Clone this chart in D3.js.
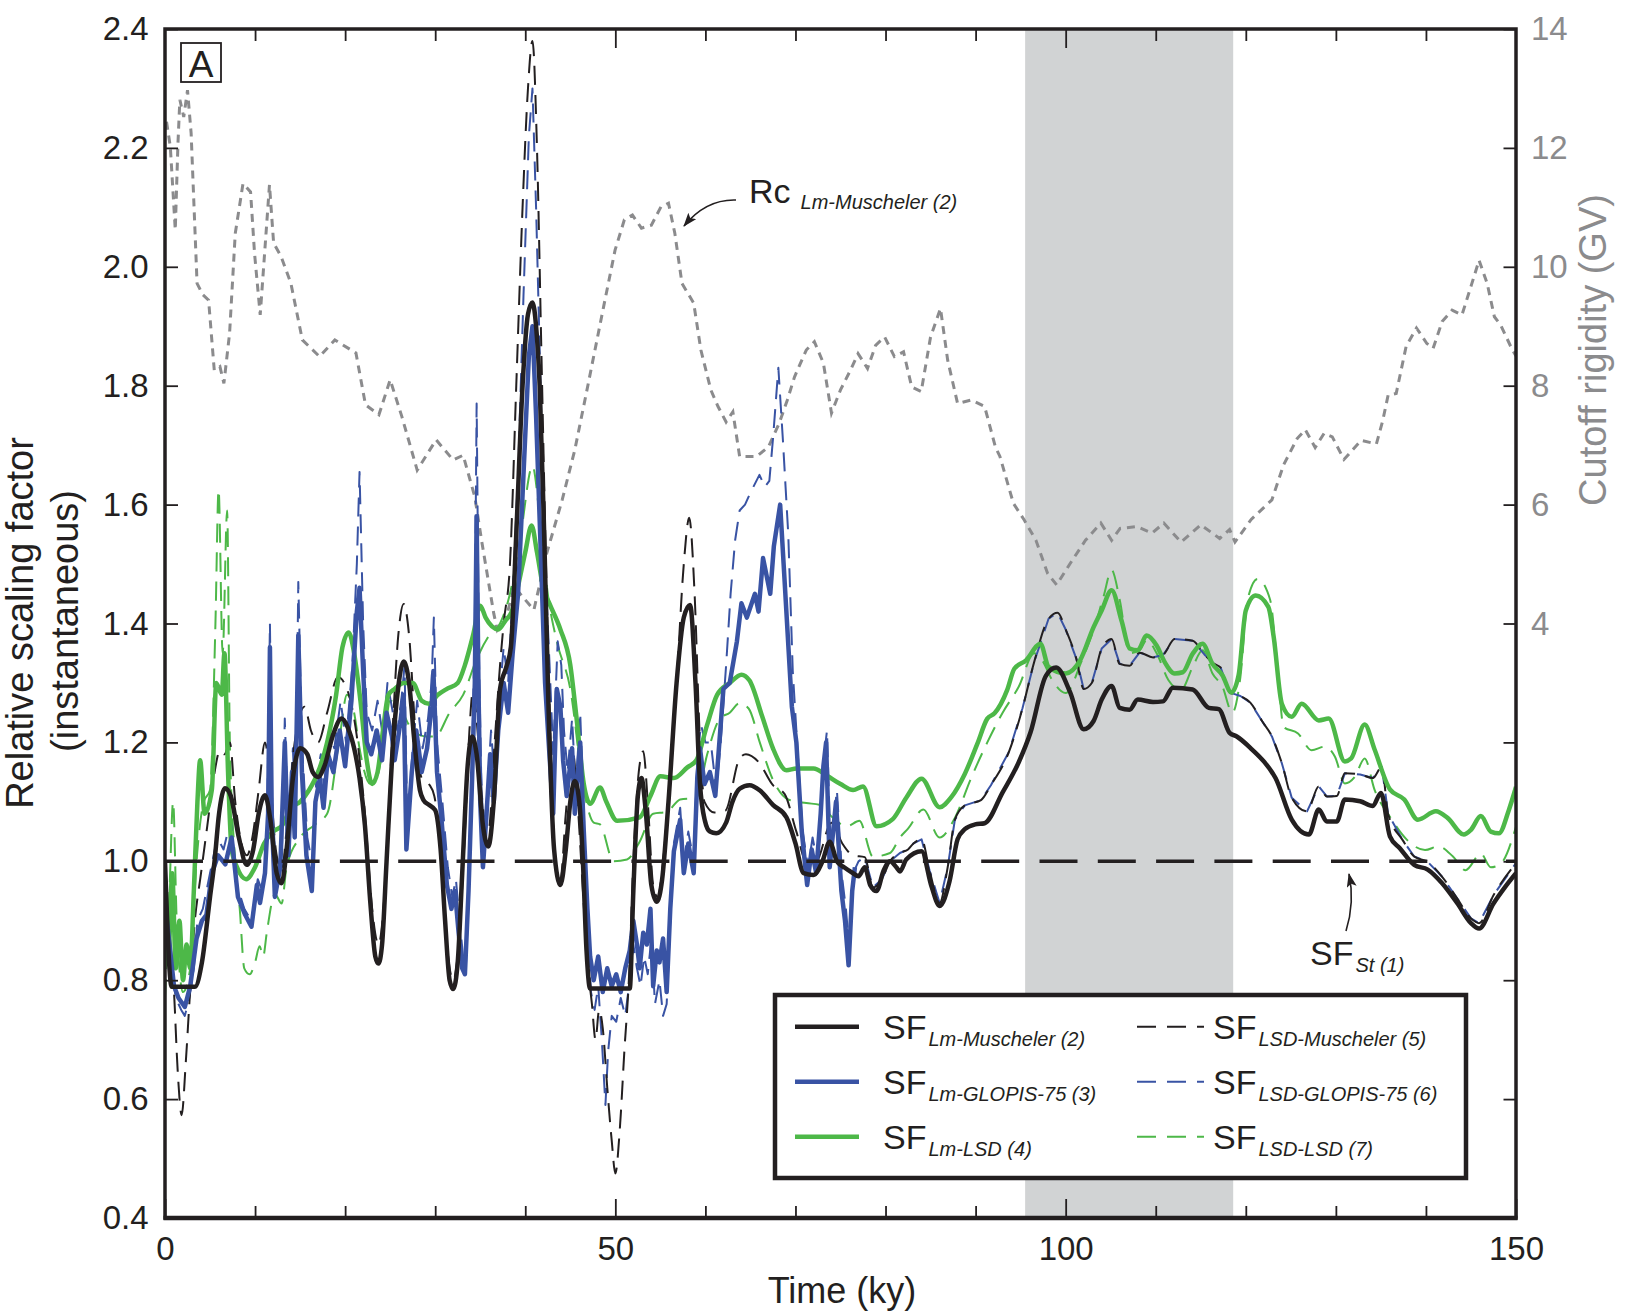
<!DOCTYPE html>
<html>
<head>
<meta charset="utf-8">
<script src="https://d3js.org/d3.v7.min.js"></script>
<style>
body { margin: 0; background: #fff; }
svg { font-family: 'Liberation Sans', Arial, Helvetica, sans-serif; }
</style>
</head>
<body>
<svg id="chart"></svg>
<script>
// ---- data ----
const timeLabels = [0, 50, 100, 150];
const timeMinor = [10, 20, 30, 40, 60, 70, 80, 90, 110, 120, 130, 140];
const sfTicks = [0.4, 0.6, 0.8, 1.0, 1.2, 1.4, 1.6, 1.8, 2.0, 2.2, 2.4];
const rcTicks = [-4, -2, 0, 2, 4, 6, 8, 10, 12, 14];
const rcLabels = [4, 6, 8, 10, 12, 14];
const band = [95.5, 118.6];
const sfSt = [[0, 1.0], [150, 1.0]];

// SF Lm-Muscheler (2)
const sfLmMuscheler = [[0,1.0],[0.74,0.789],[3.33,0.789],[4.1,0.83],[5.0,0.94],[5.5,1.0],[6.0,1.08],[6.66,1.123],[7.3,1.11],[8.2,1.04],[9.07,0.994],[9.8,1.02],[10.4,1.08],[11.1,1.111],[11.7,1.07],[12.4,0.98],[12.95,0.963],[13.5,1.02],[14.2,1.14],[15.0,1.19],[15.8,1.18],[16.4,1.15],[17.0,1.142],[17.7,1.16],[18.6,1.21],[19.6,1.24],[20.3,1.225],[21.0,1.19],[21.6,1.14],[22.2,1.06],[22.8,0.93],[23.35,0.84],[23.7,0.828],[24.1,0.86],[24.6,1.0],[25.2,1.17],[25.8,1.28],[26.5,1.336],[27.1,1.3],[27.7,1.2],[28.3,1.12],[28.7,1.103],[29.3,1.095],[30.0,1.086],[30.6,1.02],[31.1,0.9],[31.6,0.8],[32.0,0.785],[32.5,0.83],[33.0,0.98],[33.6,1.16],[34.1,1.21],[34.6,1.18],[35.3,1.06],[35.9,1.025],[36.5,1.1],[37.2,1.29],[37.9,1.327],[38.4,1.36],[39.0,1.55],[39.7,1.8],[40.3,1.92],[40.8,1.94],[41.2,1.9],[41.6,1.8],[42.1,1.55],[42.6,1.25],[43.2,1.02],[43.9,0.96],[44.5,1.02],[45.0,1.1],[45.5,1.135],[46.0,1.1],[46.4,1.0],[46.8,0.85],[47.2,0.786],[51.6,0.786],[52.0,0.95],[52.5,1.11],[52.9,1.14],[53.4,1.08],[54.0,0.96],[54.6,0.932],[55.2,0.97],[55.9,1.1],[56.8,1.3],[57.6,1.41],[58.3,1.431],[58.9,1.3],[59.4,1.13],[59.95,1.068],[60.5,1.05],[61.2,1.047],[62.3,1.065],[63.0,1.1],[63.8,1.122],[64.9,1.128],[66.06,1.119],[67.5,1.095],[69.0,1.074],[70.0,1.03],[70.9,0.98],[72.0,0.977],[73.0,1.0],[73.8,1.033],[74.6,1.0],[75.4,0.99],[76.4,0.98],[77.0,0.975],[77.7,0.99],[78.3,0.96],[79.0,0.95],[79.8,0.985],[80.5,1.0],[81.2,0.99],[81.6,0.983],[82.3,1.003],[84.0,1.017],[85.1,0.958],[86.0,0.925],[87.1,0.966],[88.0,1.037],[88.8,1.054],[89.95,1.062],[91.0,1.064],[93.0,1.116],[94.8,1.167],[96.1,1.217],[97.8,1.312],[98.95,1.326],[100.5,1.284],[102.0,1.222],[103.1,1.236],[104.0,1.272],[105.1,1.295],[106.0,1.258],[107.1,1.255],[108.0,1.272],[109.7,1.268],[110.8,1.269],[111.9,1.292],[114.1,1.289],[115.9,1.258],[117.0,1.256],[118.2,1.216],[119.0,1.21],[120.7,1.188],[122.0,1.168],[123.3,1.14],[125.1,1.07],[127.0,1.045],[128.1,1.087],[129.0,1.067],[130.1,1.067],[131.0,1.104],[132.7,1.101],[134.1,1.093],[135.0,1.115],[136.0,1.042],[137.1,1.022],[138.7,0.994],[140.2,0.986],[141.8,0.963],[143.5,0.929],[145.0,0.896],[145.9,0.887],[147.5,0.929],[148.8,0.957],[150,0.98]];

// SF Lm-GLOPIS-75 (3)
const sfLmGlopis = [[0,0.93],[0.5,0.86],[1.0,0.79],[1.5,0.77],[2.2,0.755],[2.8,0.79],[3.5,0.87],[4.1,0.9],[4.6,0.91],[5.2,0.98],[5.9,1.01],[6.7,0.995],[7.4,1.04],[8.1,0.94],[8.9,0.91],[9.6,0.89],[10.2,0.96],[10.55,0.93],[11.1,0.98],[11.45,1.08],[11.65,1.36],[11.85,1.08],[12.2,0.94],[12.8,0.99],[13.3,1.2],[13.7,1.01],[14.1,1.15],[14.4,1.04],[14.8,1.38],[15.2,1.15],[15.7,1.01],[16.3,0.95],[16.7,1.1],[17.2,1.14],[17.6,1.09],[18.1,1.18],[18.7,1.15],[19.4,1.22],[20.0,1.16],[20.7,1.27],[21.3,1.42],[21.6,1.46],[22.0,1.32],[22.4,1.2],[22.9,1.18],[23.5,1.22],[24.1,1.17],[24.6,1.25],[25.2,1.21],[25.5,1.17],[26.1,1.23],[26.5,1.28],[26.8,1.02],[27.4,1.15],[27.9,1.22],[28.5,1.15],[29.1,1.19],[29.6,1.26],[29.8,1.32],[30.2,1.15],[30.7,1.07],[31.3,0.96],[31.8,0.92],[32.2,0.95],[32.6,0.88],[33.0,0.82],[33.3,0.81],[33.7,0.95],[34.1,1.14],[34.4,1.3],[34.6,1.58],[34.8,1.3],[35.0,1.1],[35.3,0.99],[35.7,1.08],[36.1,1.18],[36.5,1.1],[37.0,1.22],[37.6,1.30],[38.1,1.25],[38.6,1.35],[39.2,1.45],[39.8,1.65],[40.4,1.85],[40.8,1.90],[41.2,1.75],[41.7,1.53],[42.2,1.3],[42.6,1.2],[43.1,1.08],[43.5,1.29],[43.9,1.26],[44.2,1.17],[44.6,1.11],[45.2,1.19],[45.5,1.08],[46.1,1.2],[46.5,1.05],[46.9,0.92],[47.2,0.84],[47.6,0.80],[48.1,0.84],[48.6,0.78],[49.1,0.82],[49.6,0.79],[50.1,0.81],[50.6,0.78],[51.1,0.82],[51.6,0.85],[52.0,0.9],[52.4,0.86],[52.7,0.82],[53.1,0.88],[53.5,0.86],[53.9,0.92],[54.2,0.79],[54.6,0.85],[54.9,0.83],[55.3,0.87],[55.7,0.78],[56.1,0.92],[56.5,1.017],[57.2,1.07],[57.6,0.98],[58.1,1.03],[58.7,0.98],[59.1,1.14],[59.4,1.19],[59.9,1.13],[60.5,1.15],[61.1,1.11],[61.4,1.17],[62.0,1.29],[62.7,1.3],[63.5,1.37],[64.0,1.434],[64.6,1.41],[65.5,1.45],[65.9,1.42],[66.4,1.51],[67.2,1.45],[67.6,1.53],[68.3,1.60],[68.8,1.47],[69.6,1.26],[70.1,1.2],[70.7,1.05],[71.3,0.96],[71.8,1.02],[72.3,0.98],[72.8,1.08],[73.1,1.16],[73.4,1.2],[73.8,0.99],[74.5,1.1],[75.1,0.95],[75.5,0.9],[75.9,0.825],[76.3,0.95],[76.6,0.99]];

// SF Lm-LSD (4)
const sfLmLsd = [[0,0.93],[0.4,0.85],[0.8,0.98],[1.2,0.82],[1.6,0.9],[2.0,0.8],[2.4,0.86],[2.8,0.82],[3.2,0.95],[3.6,1.1],[3.9,1.17],[4.4,1.08],[5.2,1.12],[5.7,1.30],[6.3,1.28],[6.6,1.35],[7.0,1.15],[7.4,1.02],[8.0,0.99],[9.0,0.97],[10.0,0.99],[11.0,1.03],[12.0,1.05],[13.0,1.06],[14.0,1.09],[15.0,1.1],[16.0,1.12],[17.0,1.15],[18.0,1.2],[19.0,1.28],[19.7,1.36],[20.4,1.385],[21.0,1.35],[21.7,1.27],[22.4,1.17],[23.0,1.13],[23.6,1.15],[24.2,1.22],[24.8,1.28],[25.5,1.29],[26.5,1.30],[27.5,1.30],[28.5,1.27],[29.3,1.265],[30.3,1.28],[31.3,1.29],[32.5,1.30],[33.3,1.33],[34.2,1.38],[35.0,1.43],[35.6,1.41],[36.3,1.395],[37.0,1.39],[37.8,1.405],[38.5,1.42],[39.3,1.47],[40.0,1.52],[40.7,1.565],[41.3,1.52],[42.0,1.46],[42.7,1.433],[43.9,1.39],[45.0,1.33],[45.7,1.24],[46.5,1.13],[47.2,1.097],[48.3,1.124],[49.0,1.10],[50.2,1.068],[52.7,1.074],[53.9,1.11],[55.0,1.143],[56.5,1.14],[58.0,1.158],[59.0,1.17],[60.2,1.23],[61.3,1.28],[62.7,1.30],[64.0,1.314],[64.9,1.304],[66.3,1.244],[67.5,1.19],[69.0,1.153],[70.1,1.156],[72.0,1.156],[73.5,1.144],[75.0,1.13],[76.4,1.12],[77.5,1.126],[79.0,1.059],[80.8,1.071],[82.3,1.107],[84.0,1.139],[86.0,1.091],[87.3,1.108],[88.8,1.147],[90.2,1.198],[91.3,1.24],[92.1,1.249],[93.5,1.288],[94.3,1.324],[95.6,1.338],[97.2,1.366],[98.1,1.327],[100.0,1.316],[101.6,1.338],[103.1,1.394],[104.0,1.422],[105.1,1.456],[106.2,1.405],[107.1,1.358],[108.0,1.355],[109.0,1.38],[110.1,1.363],[111.0,1.335],[112.1,1.316],[113.0,1.318],[114.1,1.349],[115.2,1.366],[116.3,1.332],[117.4,1.313],[118.4,1.284],[119.2,1.313],[120.0,1.422],[121.1,1.447],[122.5,1.428],[123.1,1.377],[124.0,1.265],[125.1,1.243],[126.2,1.265],[128.1,1.237],[129.2,1.24],[131.0,1.168],[131.7,1.173],[133.2,1.23],[134.3,1.188],[136.0,1.121],[137.6,1.104],[139.1,1.07],[141.1,1.084],[142.4,1.073],[144.2,1.045],[145.0,1.053],[146.1,1.076],[147.2,1.05],[148.1,1.047],[149.2,1.086],[150,1.125]];

// SF LSD-Muscheler (5)
const sfLsdMuscheler = [[0,0.97],[0.5,0.88],[1.0,0.78],[1.4,0.65],[1.85,0.573],[2.3,0.66],[2.7,0.76],[3.2,0.88],[4.0,0.98],[4.7,1.06],[5.4,1.14],[6.1,1.186],[6.6,1.18],[7.2,1.2],[7.8,1.1],[8.5,1.03],[9.1,1.01],[9.7,1.04],[10.4,1.12],[11.1,1.2],[11.7,1.13],[12.3,1.02],[12.95,0.985],[13.6,1.07],[14.4,1.2],[15.5,1.26],[16.2,1.22],[17.0,1.2],[18.0,1.25],[19.2,1.31],[20.2,1.29],[21.3,1.21],[22.2,1.08],[23.0,0.92],[23.7,0.86],[24.4,0.95],[25.2,1.2],[25.9,1.38],[26.5,1.433],[27.1,1.38],[27.8,1.22],[28.5,1.14],[29.3,1.13],[29.9,1.11],[30.6,1.02],[31.3,0.86],[32.0,0.8],[32.6,0.86],[33.3,1.05],[33.8,1.22],[34.2,1.287],[34.7,1.22],[35.3,1.09],[35.9,1.05],[36.6,1.2],[37.2,1.33],[37.6,1.40],[38.3,1.5],[39.0,1.8],[39.7,2.1],[40.3,2.3],[40.8,2.38],[41.3,2.2],[41.8,1.85],[42.3,1.5],[42.8,1.2],[43.4,0.98],[43.9,0.97],[44.5,1.08],[45.2,1.19],[45.8,1.1],[46.4,0.95],[46.9,0.83],[47.4,0.76],[47.8,0.7],[48.2,0.75],[48.6,0.72],[49.1,0.62],[49.6,0.53],[50.0,0.475],[50.5,0.55],[51.0,0.68],[51.5,0.8],[52.0,1.0],[52.6,1.15],[53.1,1.185],[53.6,1.1],[54.2,0.96],[54.7,0.94],[55.3,1.0],[56.0,1.13],[56.8,1.3],[57.6,1.5],[58.2,1.578],[58.8,1.45],[59.4,1.2],[59.9,1.1],[61.0,1.082],[62.2,1.085],[63.8,1.173],[64.5,1.18],[65.9,1.167],[67.5,1.128],[68.8,1.113],[70.1,1.05],[71.3,0.996],[72.3,0.999],[74.0,1.065],[75.2,1.03],[76.4,1.01],[77.7,1.007],[78.6,0.956],[79.6,0.97],[80.5,1.0],[81.6,1.014],[82.5,1.02],[83.1,1.03],[84.0,1.037],[84.9,0.984],[86.0,0.93],[86.9,0.99],[87.7,1.07],[88.8,1.094],[90.6,1.103],[91.7,1.128],[93.7,1.184],[95.2,1.257],[96.5,1.335],[98.1,1.408],[99.1,1.418],[100.0,1.39],[101.2,1.34],[102.0,1.29],[102.9,1.30],[104.0,1.358],[105.1,1.374],[106.0,1.332],[107.1,1.329],[108.2,1.351],[109.7,1.343],[110.8,1.347],[112.1,1.374],[114.1,1.371],[115.4,1.348],[116.5,1.332],[117.2,1.326],[118.2,1.284],[119.4,1.278],[120.5,1.267],[121.8,1.236],[122.9,1.21],[124.0,1.165],[125.1,1.107],[126.8,1.084],[128.1,1.126],[129.0,1.109],[130.1,1.11],[131.0,1.148],[132.7,1.146],[134.1,1.14],[135.1,1.159],[135.8,1.08],[137.4,1.036],[138.7,1.008],[140.2,0.999],[141.8,0.974],[143.5,0.937],[145.0,0.904],[145.9,0.896],[147.5,0.943],[150,0.997]];

// SF LSD-GLOPIS-75 (6), 0-77 ky; later it runs on the LSD-Muscheler curve
const sfLsdGlopis = [[0,0.93],[0.6,0.84],[1.2,0.77],[1.8,0.75],[2.2,0.74],[2.7,0.77],[3.2,0.82],[3.6,0.9],[4.2,0.92],[5.0,0.98],[5.8,1.04],[6.5,1.02],[7.3,1.07],[8.0,0.96],[8.8,0.92],[9.6,0.9],[10.3,0.97],[10.8,0.95],[11.3,1.02],[11.65,1.4],[11.9,1.1],[12.4,0.97],[13.0,1.03],[13.3,1.24],[13.7,1.05],[14.2,1.19],[14.5,1.08],[14.8,1.47],[15.2,1.2],[15.8,1.04],[16.4,0.99],[16.8,1.14],[17.3,1.18],[17.7,1.12],[18.2,1.22],[18.8,1.19],[19.5,1.27],[20.1,1.2],[20.8,1.33],[21.3,1.5],[21.6,1.655],[22.0,1.4],[22.4,1.25],[23.0,1.22],[23.6,1.27],[24.2,1.21],[24.7,1.3],[25.3,1.25],[25.8,1.22],[26.3,1.28],[26.6,1.33],[26.9,1.06],[27.5,1.19],[28.0,1.27],[28.6,1.19],[29.2,1.24],[29.6,1.30],[29.85,1.41],[30.2,1.2],[30.8,1.1],[31.4,0.99],[31.9,0.94],[32.3,0.97],[32.7,0.9],[33.1,0.84],[33.4,0.82],[33.8,0.98],[34.1,1.18],[34.4,1.4],[34.6,1.77],[34.85,1.35],[35.1,1.15],[35.4,1.03],[35.8,1.12],[36.2,1.22],[36.6,1.14],[37.1,1.27],[37.6,1.36],[38.1,1.3],[38.6,1.45],[39.2,1.65],[39.8,1.95],[40.4,2.22],[40.8,2.30],[41.2,2.1],[41.7,1.8],[42.2,1.5],[42.7,1.33],[43.1,1.18],[43.6,1.37],[44.0,1.33],[44.3,1.22],[44.7,1.15],[45.2,1.24],[45.6,1.12],[46.1,1.25],[46.5,1.08],[46.9,0.9],[47.3,0.78],[47.7,0.75],[48.1,0.79],[48.5,0.7],[48.9,0.59],[49.2,0.68],[49.6,0.74],[50.1,0.73],[50.6,0.77],[51.1,0.74],[51.6,0.8],[52.0,0.86],[52.4,0.82],[52.8,0.79],[53.2,0.84],[53.6,0.81],[54.0,0.87],[54.4,0.76],[54.9,0.8],[55.3,0.74],[55.7,0.76],[56.1,0.9],[56.5,1.03],[57.2,1.09],[57.6,1.0],[58.1,1.05],[58.7,1.0],[59.1,1.17],[59.5,1.23],[60.0,1.2],[60.6,1.2],[61.2,1.12],[61.7,1.2],[62.3,1.33],[62.8,1.45],[63.3,1.54],[63.8,1.59],[64.4,1.6],[65.0,1.62],[66.0,1.65],[66.6,1.63],[67.1,1.64],[67.5,1.71],[68.1,1.83],[68.6,1.71],[69.2,1.55],[69.7,1.32],[70.3,1.17],[70.8,1.05],[71.4,0.99],[71.9,1.04],[72.4,1.0],[72.9,1.1],[73.2,1.18],[73.5,1.22],[73.9,1.02],[74.6,1.12],[75.2,0.97],[75.6,0.92],[76.0,0.85],[76.4,0.98],[77.0,1.0]];

// SF LSD-LSD (7)
const sfLsdLsd = [[0,0.77],[0.5,0.95],[0.9,1.10],[1.3,0.9],[2.0,0.78],[2.8,0.82],[3.5,1.0],[4.3,1.1],[5.0,1.12],[5.6,1.4],[5.95,1.625],[6.4,1.35],[6.9,1.59],[7.2,1.2],[7.8,1.0],[8.3,0.92],[8.8,0.82],[9.4,0.81],[10.0,0.83],[10.5,0.857],[10.9,0.84],[11.3,0.88],[12.2,0.945],[12.95,0.929],[13.5,0.99],[15.0,1.04],[16.5,1.06],[18.0,1.08],[19.4,1.21],[20.2,1.28],[21.0,1.25],[21.6,1.19],[22.8,1.13],[23.5,1.14],[24.3,1.2],[25.0,1.27],[26.0,1.26],[27.5,1.22],[29.0,1.21],[30.0,1.21],[31.6,1.25],[33.1,1.28],[34.6,1.34],[36.0,1.38],[37.2,1.40],[38.3,1.45],[39.5,1.55],[40.8,1.665],[41.6,1.58],[42.5,1.45],[43.5,1.37],[45.0,1.29],[46.5,1.12],[47.6,1.065],[48.3,1.062],[49.8,1.0],[51.3,1.003],[52.7,1.033],[54.2,1.08],[55.7,1.083],[57.2,1.104],[59.0,1.107],[60.2,1.18],[61.6,1.24],[62.7,1.25],[63.8,1.266],[64.8,1.257],[66.1,1.197],[67.5,1.137],[69.2,1.104],[71.2,1.098],[72.7,1.095],[74.1,1.074],[75.7,1.059],[77.1,1.068],[78.6,1.008],[80.5,1.014],[81.6,1.04],[82.5,1.055],[84.2,1.087],[86.0,1.04],[87.7,1.073],[89.5,1.14],[91.3,1.2],[93.0,1.25],[94.8,1.294],[96.5,1.35],[97.4,1.338],[98.5,1.305],[100.0,1.283],[101.8,1.338],[103.1,1.389],[104.2,1.445],[105.1,1.49],[106.0,1.44],[107.1,1.35],[108.2,1.355],[109.0,1.372],[110.1,1.35],[111.4,1.305],[112.8,1.288],[114.1,1.327],[115.2,1.355],[116.3,1.316],[117.4,1.294],[118.5,1.25],[119.4,1.31],[120.2,1.44],[121.3,1.475],[122.7,1.44],[123.5,1.33],[124.2,1.226],[125.8,1.215],[127.3,1.187],[128.8,1.193],[129.9,1.176],[131.0,1.131],[132.1,1.142],[133.2,1.173],[134.3,1.12],[136.0,1.075],[137.9,1.036],[139.9,1.019],[141.4,1.025],[143.0,1.008],[144.4,0.985],[146.1,1.013],[147.2,0.99],[148.3,0.996],[150,1.058]];

// Rc Lm-Muscheler (2), cutoff rigidity in GV
const rcLmMuscheler = [[0.17,12.44],[0.59,12.02],[1.14,10.62],[1.44,12.08],[1.65,12.81],[2.08,12.52],[2.5,12.97],[2.9,12.25],[3.56,9.72],[4.2,9.53],[4.84,9.44],[5.47,8.26],[6.1,8.32],[6.54,8.04],[7.17,8.88],[7.8,10.56],[8.66,11.4],[9.5,11.26],[9.94,10.23],[10.57,9.19],[11.0,10.1],[11.6,11.38],[12.06,10.4],[12.9,10.17],[13.98,9.72],[15.25,8.77],[17.16,8.49],[18.86,8.77],[21.2,8.55],[22.26,7.68],[23.75,7.51],[25.0,8.1],[26.3,7.48],[28.0,6.58],[30.1,7.09],[32.0,6.75],[33.1,6.83],[34.4,6.13],[35.2,5.35],[36.5,4.17],[36.9,3.89],[37.8,4.06],[38.8,4.62],[39.7,4.45],[40.96,4.23],[42.4,5.19],[44.1,6.08],[45.5,6.92],[47.0,8.04],[48.7,9.33],[49.97,10.28],[51.0,10.79],[51.9,10.87],[52.9,10.65],[54.0,10.7],[55.07,11.01],[55.9,11.07],[56.6,10.57],[57.4,9.72],[58.7,9.39],[59.5,8.6],[60.6,7.93],[61.4,7.65],[62.3,7.39],[63.05,7.56],[63.8,6.81],[65.7,6.81],[67.0,6.97],[68.2,7.37],[69.1,7.76],[69.9,8.15],[71.2,8.6],[72.1,8.74],[73.1,8.38],[74.0,7.54],[75.0,7.93],[76.1,8.26],[76.95,8.54],[78.0,8.29],[78.9,8.68],[79.9,8.82],[80.98,8.49],[82.0,8.57],[82.9,7.98],[83.96,7.9],[85.0,8.82],[86.1,9.3],[86.9,8.43],[88.0,7.7],[89.5,7.76],[91.0,7.65],[92.2,6.97],[92.7,6.81],[94.2,6.02],[95.4,5.74],[96.7,5.4],[98.0,4.84],[99.0,4.65],[100.5,5.01],[102.2,5.4],[103.9,5.69],[105.1,5.4],[106.05,5.6],[107.9,5.63],[109.6,5.52],[110.9,5.69],[112.8,5.37],[115.0,5.66],[117.1,5.43],[118.2,5.58],[118.8,5.37],[120.6,5.75],[122.9,6.08],[124.2,6.67],[125.7,7.11],[126.6,7.26],[127.7,6.96],[128.7,7.2],[129.6,7.14],[130.9,6.76],[132.8,7.08],[134.5,7.02],[135.2,7.41],[135.8,7.84],[136.7,7.87],[137.8,8.66],[138.95,8.97],[140.1,8.71],[140.8,8.63],[141.8,9.08],[142.9,9.27],[144.0,9.19],[145.0,9.67],[145.9,10.11],[146.8,9.72],[147.6,9.16],[148.3,9.02],[149.6,8.6],[150,8.5]];

const legendSolidLabels = ['Lm-Muscheler (2)', 'Lm-GLOPIS-75 (3)', 'Lm-LSD (4)'];
const legendDashedLabels = ['LSD-Muscheler (5)', 'LSD-GLOPIS-75 (6)', 'LSD-LSD (7)'];

// ---- layout and style ----
const W = 1628, H = 1315;
const plotLeft = 165, plotRight = 1516, plotTop = 29, plotBottom = 1218;
const colors = {
	black: '#231f20', blue: '#3953a4', green: '#4db848', grey: '#8b8b8d', band: '#d1d3d4'
};
const rowColors = [colors.black, colors.blue, colors.green];
const thick = 4.5, thin = 2, thinDash = '19,10';

const svg = d3.select('#chart').attr('width', W).attr('height', H);

const x = d3.scaleLinear().domain([0, 150]).range([plotLeft, plotRight]);
const y = d3.scaleLinear().domain([0.4, 2.4]).range([plotBottom, plotTop]);
const yRc = d3.scaleLinear().domain([-6, 14]).range([plotBottom, plotTop]);

const defs = svg.append('defs');
defs.append('clipPath').attr('id', 'plot-clip')
	.append('rect').attr('x', plotLeft).attr('y', plotTop)
	.attr('width', plotRight - plotLeft).attr('height', plotBottom - plotTop);
defs.append('marker')
	.attr('id', 'arrow-end')
	.attr('viewBox', '0 0 14 10')
	.attr('refX', 13).attr('refY', 5)
	.attr('markerWidth', 14).attr('markerHeight', 10)
	.attr('markerUnits', 'userSpaceOnUse')
	.attr('orient', 'auto')
	.append('path').attr('d', 'M0,0 L14,5 L0,10 L3,5 z').attr('fill', colors.black);

// shaded interval
svg.append('rect')
	.attr('x', x(band[0])).attr('y', plotTop)
	.attr('width', x(band[1]) - x(band[0])).attr('height', plotBottom - plotTop)
	.attr('fill', colors.band);

const plot = svg.append('g').attr('clip-path', 'url(#plot-clip)');

const sfLine = d3.line().x(d => x(d[0])).y(d => y(d[1]));
const sfSmooth = d3.line().curve(d3.curveMonotoneX).x(d => x(d[0])).y(d => y(d[1]));
const rcLine = d3.line().x(d => x(d[0])).y(d => yRc(d[1]));

plot.append('path').datum(rcLmMuscheler)
	.attr('fill', 'none')
	.attr('stroke', colors.grey)
	.attr('stroke-width', 3)
	.attr('stroke-dasharray', '8,6')
	.attr('d', rcLine);

const sfLsdGlopisFull = sfLsdGlopis.concat(sfLsdMuscheler.filter(d => d[0] > 77.5));

const series = [
	{ data: sfLsdLsd, color: colors.green, width: thin, dash: thinDash, gen: sfSmooth, offset: 0 },
	{ data: sfLsdGlopisFull, color: colors.blue, width: thin, dash: thinDash, gen: sfLine, offset: 14 },
	{ data: sfLsdMuscheler, color: colors.black, width: thin, dash: thinDash, gen: sfSmooth, offset: 0 },
	{ data: sfLmLsd, color: colors.green, width: thick, dash: null, gen: sfSmooth, offset: 0 },
	{ data: sfLmGlopis, color: colors.blue, width: thick, dash: null, gen: sfLine, offset: 0 },
	{ data: sfLmMuscheler, color: colors.black, width: thick, dash: null, gen: sfSmooth, offset: 0 }
];

series.forEach(s => {
	plot.append('path').datum(s.data)
		.attr('fill', 'none')
		.attr('stroke', s.color)
		.attr('stroke-width', s.width)
		.attr('stroke-linejoin', 'round')
		.attr('stroke-dasharray', s.dash)
		.attr('stroke-dashoffset', s.offset)
		.attr('d', s.gen);
});

// SF St (1) reference line
plot.append('path').datum(sfSt)
	.attr('fill', 'none')
	.attr('stroke', colors.black)
	.attr('stroke-width', 3.5)
	.attr('stroke-dasharray', '38,20.3')
	.attr('d', sfLine);

// ---- axes ----
const fontSize = 33;
const styleAxis = (g, fill) => {
	g.select('.domain').remove();
	g.selectAll('.tick line').attr('stroke', colors.black).attr('stroke-width', 1.8);
	g.selectAll('.tick text').attr('fill', fill)
		.attr('font-family', "'Liberation Sans', Arial, sans-serif")
		.attr('font-size', fontSize);
};

svg.append('g').attr('transform', `translate(0,${plotBottom})`)
	.call(d3.axisBottom(x).tickValues(timeLabels).tickSize(-19).tickPadding(18.6).tickFormat(d3.format('d')))
	.call(g => styleAxis(g, colors.black));
svg.append('g').attr('transform', `translate(0,${plotBottom})`)
	.call(d3.axisBottom(x).tickValues(timeMinor).tickSize(-12).tickFormat(''))
	.call(g => styleAxis(g, colors.black));
svg.append('g').attr('transform', `translate(0,${plotTop})`)
	.call(d3.axisTop(x).tickValues(timeLabels.slice(1, 3)).tickSize(-19).tickFormat(''))
	.call(g => styleAxis(g, colors.black));
svg.append('g').attr('transform', `translate(0,${plotTop})`)
	.call(d3.axisTop(x).tickValues(timeMinor).tickSize(-12).tickFormat(''))
	.call(g => styleAxis(g, colors.black));

svg.append('g').attr('transform', `translate(${plotLeft},0)`)
	.call(d3.axisLeft(y).tickValues(sfTicks).tickSize(-13).tickPadding(16.5).tickFormat(d3.format('.1f')))
	.call(g => styleAxis(g, colors.black));

svg.append('g').attr('transform', `translate(${plotRight},0)`)
	.call(d3.axisRight(yRc).tickValues(rcTicks).tickSize(-12.5).tickPadding(15)
		.tickFormat(d => rcLabels.includes(d) ? d : ''))
	.call(g => styleAxis(g, colors.grey));

// frame
svg.append('rect')
	.attr('x', plotLeft).attr('y', plotTop)
	.attr('width', plotRight - plotLeft).attr('height', plotBottom - plotTop)
	.attr('fill', 'none')
	.attr('stroke', colors.black)
	.attr('stroke-width', 3.5);
svg.append('line')
	.attr('x1', plotLeft - 1.5).attr('x2', plotRight + 1.5)
	.attr('y1', plotBottom).attr('y2', plotBottom)
	.attr('stroke', colors.black).attr('stroke-width', 4.5);

// axis titles
svg.append('text')
	.attr('x', 842).attr('y', 1303)
	.attr('text-anchor', 'middle')
	.attr('font-size', 36)
	.attr('fill', colors.black)
	.text('Time (ky)');

svg.append('text')
	.attr('transform', 'translate(33,623) rotate(-90)')
	.attr('text-anchor', 'middle')
	.attr('font-size', 38)
	.attr('fill', colors.black)
	.text('Relative scaling factor');
svg.append('text')
	.attr('transform', 'translate(78,621) rotate(-90)')
	.attr('text-anchor', 'middle')
	.attr('font-size', 38)
	.attr('fill', colors.black)
	.text('(instantaneous)');

svg.append('text')
	.attr('transform', 'translate(1606,350) rotate(-90)')
	.attr('text-anchor', 'middle')
	.attr('font-size', 38)
	.attr('fill', colors.grey)
	.text('Cutoff rigidity (GV)');

// panel letter
svg.append('rect')
	.attr('x', 181).attr('y', 43).attr('width', 40).attr('height', 39)
	.attr('fill', '#fff').attr('stroke', colors.black).attr('stroke-width', 1.8);
svg.append('text')
	.attr('x', 201).attr('y', 77)
	.attr('text-anchor', 'middle')
	.attr('font-size', 37)
	.attr('fill', colors.black)
	.text('A');

// annotations
const subLabel = (px, py, main, sub, gap, drop) => {
	const t = svg.append('text').attr('x', px).attr('y', py).attr('fill', colors.black);
	t.append('tspan').attr('font-size', 34).text(main);
	t.append('tspan').attr('font-size', 20).attr('font-style', 'italic')
		.attr('dx', gap).attr('dy', drop).text(sub);
	return t;
};

subLabel(749, 203, 'Rc', 'Lm-Muscheler (2)', 10, 6);
svg.append('path')
	.attr('d', 'M736,200 Q706,199 684,226')
	.attr('fill', 'none').attr('stroke', colors.black).attr('stroke-width', 1.6)
	.attr('marker-end', 'url(#arrow-end)');

subLabel(1310, 965, 'SF', 'St (1)', 2, 7);
svg.append('path')
	.attr('d', 'M1346,931 Q1355,902 1349,874')
	.attr('fill', 'none').attr('stroke', colors.black).attr('stroke-width', 1.6)
	.attr('marker-end', 'url(#arrow-end)');

// ---- legend ----
const legend = svg.append('g');
legend.append('rect')
	.attr('x', 775).attr('y', 995).attr('width', 691).attr('height', 183)
	.attr('fill', '#fff').attr('stroke', colors.black).attr('stroke-width', 4.5);

const rowY = d3.scaleLinear().domain([0, 1]).range([1026.7, 1081.7]);

legendSolidLabels.forEach((label, i) => {
	legend.append('line')
		.attr('x1', 795).attr('x2', 859)
		.attr('y1', rowY(i)).attr('y2', rowY(i))
		.attr('stroke', rowColors[i]).attr('stroke-width', thick);
	const t = legend.append('text').attr('x', 883).attr('y', rowY(i) + 12.5).attr('fill', colors.black);
	t.append('tspan').attr('font-size', 34).text('SF');
	t.append('tspan').attr('font-size', 20).attr('font-style', 'italic').attr('dx', 2).attr('dy', 7).text(label);
});

legendDashedLabels.forEach((label, i) => {
	legend.append('line')
		.attr('x1', 1137).attr('x2', 1204)
		.attr('y1', rowY(i)).attr('y2', rowY(i))
		.attr('stroke', rowColors[i]).attr('stroke-width', thin)
		.attr('stroke-dasharray', '19,11');
	const t = legend.append('text').attr('x', 1213).attr('y', rowY(i) + 12.5).attr('fill', colors.black);
	t.append('tspan').attr('font-size', 34).text('SF');
	t.append('tspan').attr('font-size', 20).attr('font-style', 'italic').attr('dx', 2).attr('dy', 7).text(label);
});
</script>
</body>
</html>
